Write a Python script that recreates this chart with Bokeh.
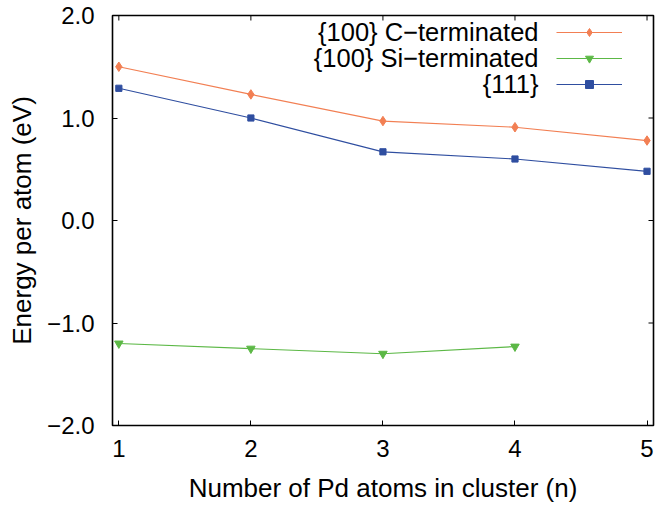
from bokeh.plotting import figure
from bokeh.models import (Range1d, FixedTicker, LinearAxis, Legend, LegendItem, Label)
from bokeh.embed import file_html
from bokeh.resources import INLINE

# ---- data ----
n_atoms = [1, 2, 3, 4, 5]
c_term = [1.50, 1.23, 0.97, 0.91, 0.78]
si_n = [1, 2, 3, 4]
si_term = [-1.20, -1.25, -1.30, -1.23]
e111 = [1.29, 1.00, 0.67, 0.60, 0.48]
series_names = ["{100} C\u2212terminated", "{100} Si\u2212terminated", "{111}"]
y_ticks = [-2, -1, 0, 1, 2]
y_tick_labels = ["\u22122.0", "\u22121.0", "0.0", "1.0", "2.0"]
x_ticks = [1, 2, 3, 4, 5]
x_tick_labels = ["1", "2", "3", "4", "5"]

ORANGE = "#f27f53"
GREEN = "#5cb846"
BLUE = "#2f4ea0"
FONT = "Liberation Sans"

W, H = 669, 507
BL, BR, BT, BB = 112, 16, 15, 82
FW, FH = W - BL - BR, H - BT - BB
X0, X1 = 0.952, 5.049
Y0, Y1 = -2.0, 2.0
TICK = 5  # px

p = figure(width=W, height=H, output_backend="svg", toolbar_location=None,
           x_range=Range1d(X0, X1), y_range=Range1d(Y0, Y1),
           min_border_left=BL, min_border_right=BR, min_border_top=BT, min_border_bottom=BB,
           x_axis_location=None, y_axis_location=None)
p.background_fill_color = "white"
p.border_fill_color = "white"
p.outline_line_color = "black"
p.outline_line_width = 1.6
p.xgrid.visible = False
p.ygrid.visible = False

def style_axis(ax, ticks, labels):
    ax.ticker = FixedTicker(ticks=ticks)
    ax.major_label_overrides = {t: l for t, l in zip(ticks, labels)}
    ax.axis_line_color = None
    ax.major_tick_in = TICK
    ax.major_tick_out = 0
    ax.major_tick_line_color = "black"
    ax.major_tick_line_width = 1
    ax.minor_tick_line_color = None
    ax.major_label_text_font = FONT
    ax.major_label_text_color = "black"
    ax.major_label_text_font_size = "24px"
    ax.axis_label_text_font = FONT
    ax.axis_label_text_font_size = "26px"
    ax.axis_label_text_font_style = "normal"
    ax.axis_label_text_color = "black"

xb = LinearAxis(axis_label="Number of Pd atoms in cluster (n)")
style_axis(xb, x_ticks, x_tick_labels)
xb.major_label_standoff = 14
xb.axis_label_standoff = 13
p.add_layout(xb, "below")

yl = LinearAxis(axis_label="Energy per atom (eV)")
style_axis(yl, y_ticks, y_tick_labels)
yl.major_label_standoff = 18
yl.axis_label_standoff = 7
p.add_layout(yl, "left")

# mirrored inward ticks on the top and right edges of the frame
dx = TICK * (X1 - X0) / FW
dy = TICK * (Y1 - Y0) / FH
p.segment(x0=x_ticks, y0=[Y1] * len(x_ticks), x1=x_ticks, y1=[Y1 - dy] * len(x_ticks),
          line_color="black", line_width=1)
p.segment(x0=[X1] * len(y_ticks), y0=y_ticks, x1=[X1 - dx] * len(y_ticks), y1=y_ticks,
          line_color="black", line_width=1)

l1 = p.line(n_atoms, c_term, line_color=ORANGE, line_width=1.2)
m1 = p.scatter(n_atoms, c_term, marker="diamond", size=9.5,
               fill_color=ORANGE, line_color=ORANGE, line_width=1)
l2 = p.line(si_n, si_term, line_color=GREEN, line_width=1.2)
m2 = p.scatter(si_n, si_term, marker="inverted_triangle", size=8.5,
               fill_color=GREEN, line_color=GREEN)
l3 = p.line(n_atoms, e111, line_color=BLUE, line_width=1.2)
m3 = p.scatter(n_atoms, e111, marker="square", size=6.2, fill_color=BLUE, line_color=BLUE)

legend = Legend(items=[LegendItem(label=" ", renderers=[l1, m1]),
                       LegendItem(label=" ", renderers=[l2, m2]),
                       LegendItem(label=" ", renderers=[l3, m3])],
                location=(444, FH - 78.7), glyph_width=66, glyph_height=20,
                label_width=1, label_height=20, label_standoff=0,
                label_text_font_size="1px", padding=0, margin=0, spacing=6,
                border_line_alpha=0, background_fill_alpha=0)
p.add_layout(legend)

for name, off in zip(series_names, [16.7, 42.7, 68.3]):
    p.add_layout(Label(x=426, y=FH - off, x_units="screen", y_units="screen", text=name,
                       text_align="right", text_baseline="middle",
                       text_font=FONT, text_font_size="25.5px", text_color="black"))

open("out.html", "w").write(file_html(p, INLINE))
